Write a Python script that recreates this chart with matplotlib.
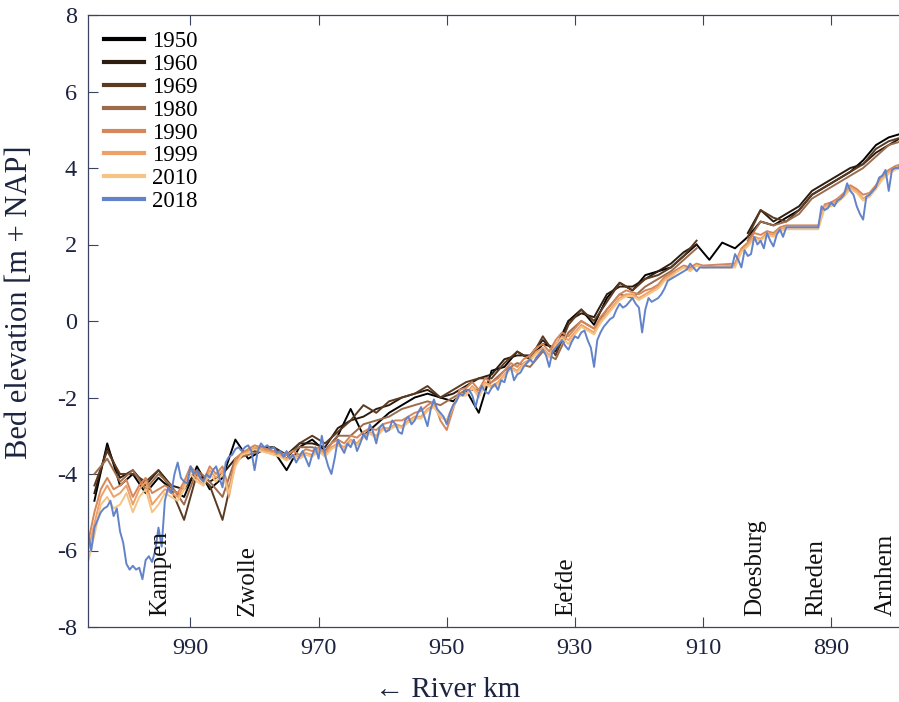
import numpy as np
import matplotlib
matplotlib.use('Agg')
import matplotlib.pyplot as plt

# bed elevation [m + NAP] of the IJssel, older surveys every 2 km (1005 -> 879)
bed_1950 = [-4.7, -3.2, -4.3, -4.0, -4.5, -4.1, -4.4, -4.6, -3.8, -4.4,
            -4.1, -3.1, -3.6, -3.4, -3.4, -3.9, -3.3, -3.1, -3.4, -3.0,
            -2.3, -3.0, -2.7, -2.4, -2.2, -2.0, -1.9, -2.0, -2.1, -1.8,
            -2.4, -1.3, -1.2, -0.8, -1.0, -0.6, -0.7, 0.0, 0.3, -0.1,
            0.6, 1.0, 0.8, 1.2, 1.3, 1.4, 1.7, 2.0, 1.6, 2.05,
            1.9, 2.2, 2.6, 2.5, 2.7, 2.9, 3.3, 3.5, 3.7, 3.9,
            4.2, 4.6, 4.8, 4.9]
bed_1960 = [-4.5, -3.3, -4.1, -3.9, -4.3, -3.9, -4.3, -4.4, -3.9, -4.2,
            -4.0, -3.6, -3.4, -3.3, -3.3, -3.5, -3.2, -3.2, -3.3, -2.8,
            -2.6, -2.5, -2.3, -2.2, -2.0, -1.9, -1.8, -2.0, -1.9, -1.7,
            -1.5, -1.4, -1.0, -0.9, -0.9, -0.5, -0.8, 0.0, 0.2, 0.1,
            0.7, 0.9, 0.9, 1.1, 1.3, 1.5, 1.8, 2.0, np.nan, np.nan,
            np.nan, 2.3, 2.9, 2.6, 2.8, 3.0, 3.4, 3.6, 3.8, 4.0,
            4.1, 4.4, 4.6, 4.8]
bed_1969 = [-4.3, -3.4, -4.0, -4.0, -4.2, -3.9, -4.4, -5.2, -4.0, -4.3,
            -5.2, -3.7, -3.4, -3.4, -3.3, -3.6, -3.2, -3.0, -3.2, -2.9,
            -2.6, -2.2, -2.4, -2.1, -2.0, -1.9, -1.7, -2.0, -1.8, -1.6,
            -1.5, -1.5, -1.1, -0.8, -1.0, -0.4, -0.9, -0.1, 0.3, 0.0,
            0.5, 1.0, 0.8, 1.1, 1.2, 1.4, 1.7, 2.1, np.nan, np.nan,
            np.nan, 2.2, 2.9, 2.7, 2.6, 2.9, 3.3, 3.5, 3.7, 3.9,
            4.1, 4.5, 4.7, 4.8]
bed_1980 = [-4.0, -3.6, -4.2, -3.9, -4.4, -4.0, -4.3, -4.8, -3.9, -4.2,
            -4.6, -3.6, -3.5, -3.4, -3.4, -3.5, -3.3, -3.3, -3.4, -3.0,
            -3.0, -2.7, -2.6, -2.5, -2.3, -2.2, -2.1, -2.2, -2.0, -1.8,
            -1.8, -1.6, -1.3, -1.1, -1.2, -0.8, -1.0, -0.3, 0.0, -0.2,
            0.3, 0.7, 0.6, 0.9, 1.1, 1.3, 1.6, 1.9, np.nan, np.nan,
            np.nan, 2.1, 2.6, 2.5, 2.6, 2.8, 3.2, 3.4, 3.6, 3.8,
            4.0, 4.3, 4.6, 4.7]

# newer surveys every km, three stretches: 1006-910, 905-897, 892-879
bed_1990 = [-5.8, -5.0, -4.4, -4.1, -4.4, -4.3, -4.15, -4.6, -4.3, -4.1,
            -4.5, -4.4, -4.3, -4.4, -4.5, -4.2, -3.8, -4.0, -4.2, -3.8,
            -4.0, -3.8, -4.4, -3.6, -3.45, -3.35, -3.25, -3.3, -3.35, -3.4,
            -3.45, -3.5, -3.4, -3.5, -3.35, -3.4, -3.3, -3.45, -3.2, -3.1,
            -3.2, -3.0, -3.05, -2.9, -2.8, -2.85, -2.7, -2.65, -2.6, -2.6,
            -2.5, -2.4, -2.35, -2.2, -2.1, -2.6, -2.85, -2.3, -1.8, -1.75,
            -1.6, -1.8, -1.5, -1.6, -1.5, -1.3, -1.1, -1.2, -1.0, -0.9,
            -0.7, -0.6, -0.8, -0.5, -0.3, -0.4, -0.2, 0.0, -0.1, -0.2,
            0.1, 0.3, 0.5, 0.7, 0.8, 0.75, 0.7, 0.8, 0.85, 0.95,
            1.15, 1.25, 1.35, 1.45, 1.4, 1.5, 1.45,
            1.5, 1.9, 2.05, 2.3, 2.25, 2.35, 2.3, 2.45, 2.5,
            2.5, 3.05, 3.1, 3.2, 3.35, 3.55, 3.45, 3.3, 3.35, 3.55, 3.8, 3.95, 4.05, 4.1]
bed_1999 = [-6.0, -5.3, -4.6, -4.3, -4.6, -4.5, -4.3, -4.8, -4.4, -4.2,
            -4.8, -4.6, -4.4, -4.5, -4.6, -4.3, -3.9, -4.1, -4.3, -3.9,
            -4.1, -3.9, -4.6, -3.7, -3.5, -3.4, -3.3, -3.35, -3.4, -3.45,
            -3.5, -3.6, -3.5, -3.55, -3.45, -3.5, -3.35, -3.5, -3.3, -3.2,
            -3.3, -3.1, -3.2, -3.0, -2.9, -3.0, -2.8, -2.8, -2.7, -2.75,
            -2.6, -2.5, -2.5, -2.3, -2.2, -2.5, -2.6, -2.2, -1.9, -1.9,
            -1.7, -1.9, -1.6, -1.7, -1.6, -1.4, -1.2, -1.3, -1.1, -1.0,
            -0.8, -0.7, -0.9, -0.6, -0.4, -0.5, -0.3, -0.1, -0.2, -0.3,
            0.0, 0.2, 0.4, 0.6, 0.7, 0.7, 0.6, 0.7, 0.8, 0.9,
            1.1, 1.2, 1.3, 1.4, 1.35, 1.45, 1.4,
            1.45, 1.85, 2.0, 2.2, 2.15, 2.3, 2.25, 2.4, 2.45,
            2.45, 3.0, 3.05, 3.15, 3.3, 3.5, 3.4, 3.2, 3.3, 3.5, 3.75, 3.9, 4.0, 4.05]
bed_2010 = [-6.3, -5.6, -4.8, -4.6, -4.9, -4.8, -4.5, -5.0, -4.6, -4.4,
            -5.0, -4.8, -4.5, -4.6, -4.7, -4.4, -4.0, -4.2, -4.3, -4.0,
            -4.2, -4.0, -4.5, -3.8, -3.5, -3.45, -3.35, -3.4, -3.45, -3.5,
            -3.55, -3.65, -3.55, -3.6, -3.5, -3.55, -3.4, -3.55, -3.35, -3.25,
            -3.35, -3.15, -3.25, -3.05, -2.95, -3.05, -2.85, -2.85, -2.75, -2.8,
            -2.65, -2.55, -2.55, -2.35, -2.25, -2.5, -2.6, -2.25, -1.95, -1.95,
            -1.75, -2.0, -1.65, -1.75, -1.65, -1.45, -1.25, -1.35, -1.15, -1.05,
            -0.85, -0.75, -0.95, -0.65, -0.45, -0.6, -0.35, -0.15, -0.25, -0.35,
            -0.05, 0.15, 0.35, 0.55, 0.65, 0.65, 0.55, 0.65, 0.75, 0.85,
            1.05, 1.15, 1.3, 1.4, 1.3, 1.45, 1.4,
            1.4, 1.8, 1.95, 2.15, 2.1, 2.25, 2.2, 2.35, 2.4,
            2.4, 2.95, 3.0, 3.1, 3.25, 3.45, 3.35, 3.15, 3.25, 3.45, 3.7, 3.85, 3.95, 4.0]

# 2018 multibeam, every 0.5 km: 1006-910.5, 905.5-896.5, 892-879
bed_2018_a = [-5.5, -6.0, -5.4, -5.2, -5.0, -4.9, -4.85, -4.7, -5.1, -4.9,
              -5.5, -5.8, -6.35, -6.5, -6.4, -6.5, -6.45, -6.75, -6.25, -6.15,
              -6.3, -6.0, -5.4, -5.9, -4.7, -4.35, -4.5, -4.0, -3.7, -4.1,
              -4.2, -4.25, -3.8, -4.0, -3.9, -4.1, -4.2, -4.0, -4.1, -3.9,
              -3.8, -4.1, -4.35, -3.7, -3.55, -3.5, -3.35, -3.3, -3.4, -3.3,
              -3.25, -3.4, -3.9, -3.4, -3.2, -3.3, -3.25, -3.35, -3.3, -3.45,
              -3.4, -3.55, -3.4, -3.6, -3.5, -3.7, -3.55, -3.4, -3.6, -3.8,
              -3.5, -3.3, -3.6, -3.0, -3.5, -3.8, -4.0, -3.6, -3.1, -3.3,
              -3.45, -3.2, -3.3, -3.1, -3.4, -3.2, -2.95, -3.1, -2.7, -2.9,
              -3.2, -2.8, -2.7, -2.9, -2.85, -2.6, -2.7, -2.9, -2.95, -2.6,
              -2.5, -2.7, -2.6, -2.4, -2.25, -2.5, -2.75, -2.3, -2.05, -2.3,
              -2.4, -2.5, -2.7, -2.4, -2.2, -2.1, -1.9, -1.95, -1.8, -1.8,
              -1.95, -2.25, -1.9, -1.7, -1.85, -1.9, -1.75, -1.65, -1.8, -1.55,
              -1.6, -1.3, -1.2, -1.55, -1.4, -1.35, -1.2, -1.1, -1.0, -1.1,
              -0.95, -0.85, -0.75, -0.9, -1.2, -0.8, -0.7, -0.6, -0.5, -0.65,
              -0.75, -0.55, -0.4, -0.45, -0.3, -0.25, -0.5, -0.7, -1.2, -0.5,
              -0.3, -0.15, -0.05, 0.05, 0.1, 0.3, 0.45, 0.35, 0.4, 0.5,
              0.6, 0.45, 0.35, -0.3, 0.3, 0.6, 0.5, 0.55, 0.6, 0.7,
              0.85, 1.05, 1.1, 1.15, 1.2, 1.25, 1.3, 1.35, 1.5, 1.4,
              1.3, 1.4]
bed_2018_b = [1.4, 1.75, 1.6, 1.4, 1.85, 1.7, 1.75, 2.2, 2.0, 2.1,
              1.9, 2.3, 2.1, 1.95, 2.25, 2.4, 2.2, 2.45, 2.45]
bed_2018_c = [2.45, 3.0, 2.9, 2.95, 3.1, 3.0, 3.15, 3.2, 3.3, 3.6,
              3.4, 3.3, 3.0, 2.8, 2.65, 3.25, 3.3, 3.4, 3.5, 3.75,
              3.8, 3.95, 3.4, 3.95, 4.0, 4.0, 4.1]

years = ['1950', '1960', '1969', '1980', '1990', '1999', '2010', '2018']
colors = ['#000000', '#2d1c10', '#5b3a22', '#9b6c4c',
          '#d5875a', '#efa066', '#f5c384', '#6283c9']

places = ['Kampen', 'Zwolle', 'Eefde', 'Doesburg', 'Rheden', 'Arnhem']
place_km = [994.8, 981.1, 931.3, 901.8, 892.3, 881.4]

# station positions
km_old = 1005 - 2.0 * np.arange(len(bed_1950))
km_new = np.concatenate([1006 - np.arange(97), 905 - np.arange(9), 892 - np.arange(14)])
km_2018 = np.concatenate([1006 - 0.5 * np.arange(len(bed_2018_a)),
                          905.5 - 0.5 * np.arange(len(bed_2018_b)),
                          892 - 0.5 * np.arange(len(bed_2018_c))])
bed_2018 = bed_2018_a + bed_2018_b + bed_2018_c

series = [(km_old, bed_1950), (km_old, bed_1960), (km_old, bed_1969), (km_old, bed_1980),
          (km_new, bed_1990), (km_new, bed_1999), (km_new, bed_2010), (km_2018, bed_2018)]

plt.rcParams['font.family'] = ['Liberation Serif', 'DejaVu Serif']
plt.rcParams['axes.unicode_minus'] = False
navy = '#1c2440'

fig = plt.figure(figsize=(8.99, 7.02), dpi=100)
ax = fig.add_axes([88 / 899, 1 - 627 / 702, 1 - 88 / 899, 612 / 702])

for (x, y), yr, c in zip(series, years, colors):
    ax.plot(x, y, color=c, lw=1.4, label=yr)

ax.set_xlim(1006.0, 879.4)
ax.set_ylim(-8, 8)
ax.set_xticks([990, 970, 950, 930, 910, 890])
ax.set_yticks(np.arange(-8, 9, 2))
ax.tick_params(axis='both', direction='in', length=7, width=0.8, colors='#3a4460',
               labelcolor=navy, labelsize=17.5, pad=8)
ax.tick_params(axis='x', top=True)
ax.spines['right'].set_visible(False)
for s in ['top', 'left', 'bottom']:
    ax.spines[s].set_color('#3a4460')
    ax.spines[s].set_linewidth(0.9)

# town names along the river, written upwards
for name, k in zip(places, place_km):
    ax.text(k, -7.72, name, rotation=90, ha='center', va='bottom',
            fontsize=18, color='#111111')

ax.set_ylabel('Bed elevation [m + NAP]', fontsize=22, color=navy)
ax.yaxis.set_label_coords(-0.066, 0.53)
ax.set_xlabel('\u2190 River km', fontsize=21, color=navy,
              family=['Liberation Serif', 'DejaVu Sans'])
ax.xaxis.set_label_coords(0.444, -0.082)

leg = ax.legend(loc='upper left', bbox_to_anchor=(0.0, 1.0), frameon=False,
                fontsize=16.5, handlelength=1.75, handletextpad=0.35,
                labelspacing=0.08, borderaxespad=0.3)
for line in leg.get_lines():
    line.set_linewidth(3.0)

fig.savefig('out.png', dpi=100)
